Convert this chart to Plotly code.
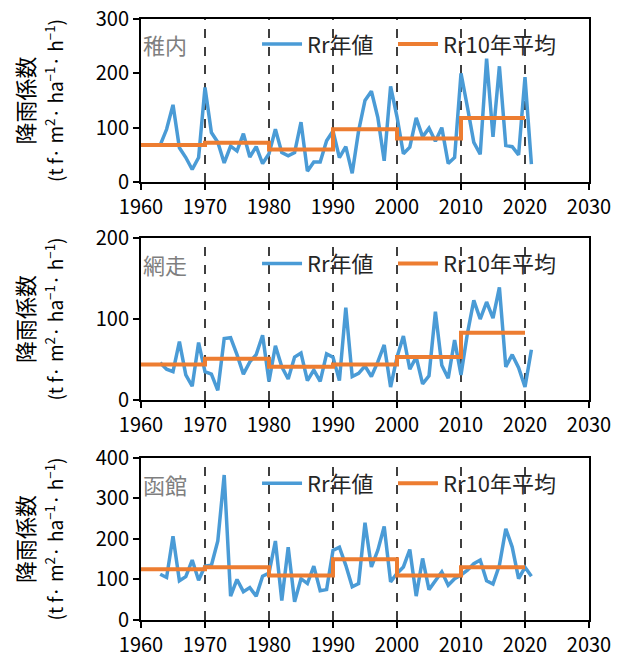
import plotly.graph_objects as go

years = list(range(1963, 2022))
decades = [1960, 1970, 1980, 1990, 2000, 2010, 2020]

wakkanai = [68, 97, 142, 63, 45, 23, 45,
            174, 91, 73, 35, 66, 57, 89, 46, 65, 34,
            52, 97, 54, 48, 54, 110, 20, 37, 37, 76,
            94, 45, 65, 16, 94, 150, 167, 119, 39, 176,
            120, 52, 64, 118, 83, 99, 75, 100, 34, 45,
            200, 138, 73, 51, 227, 83, 213, 67, 65, 50,
            193, 33]
wakkanai_avg = [68, 72, 60, 97, 80, 118, 118]

abashiri = [46, 38, 35, 72, 31, 17, 71,
            35, 32, 12, 76, 77, 56, 32, 47, 56, 80,
            23, 67, 41, 26, 53, 58, 24, 37, 23, 57,
            53, 24, 114, 29, 33, 42, 29, 47, 68, 16,
            53, 79, 38, 53, 20, 30, 109, 43, 27, 74,
            31, 82, 123, 100, 121, 101, 139, 41, 56, 40,
            16, 62]
abashiri_avg = [44, 51, 41, 44, 53, 83, 83]

hakodate = [113, 105, 207, 97, 107, 148, 98,
            133, 135, 195, 358, 59, 100, 70, 80, 59, 108,
            116, 195, 48, 180, 45, 102, 90, 133, 72, 75,
            172, 180, 135, 82, 90, 240, 131, 172, 231, 94,
            115, 131, 174, 59, 152, 75, 98, 119, 86, 102,
            111, 123, 139, 148, 97, 89, 135, 225, 180, 102,
            130, 108]
hakodate_avg = [125, 130, 110, 150, 110, 130, 130]

stations = ["稚内", "網走", "函館"]
series = [wakkanai, abashiri, hakodate]
averages = [wakkanai_avg, abashiri_avg, hakodate_avg]
y_ranges = [[0, 300], [0, 200], [0, 400]]
y_dtick = [100, 100, 100]
x_ticks = [1960, 1970, 1980, 1990, 2000, 2010, 2020, 2030]
names = ["Rr年値", "Rr10年平均"]

BLUE = "#4A9BD6"
ORANGE = "#ED7D31"
CJK = "Noto Sans CJK JP, sans-serif"

domains = [[0.7288, 1.0], [0.366, 0.6356], [0.0, 0.2696]]
legend_y = [0.958, 0.593, 0.227]
legend_x = [0.259, 0.5625]

ytitle = ("降雨係数<br><span style='font-size:19px'>"
          "(t f· m<sup>2</sup>· ha<sup>−1</sup>· h<sup>−1</sup>)</span>")

fig = go.Figure()
for i in range(3):
    ax = "" if i == 0 else str(i + 1)
    lg_b = "legend" if i == 0 else f"legend{2 * i + 1}"
    lg_o = f"legend{2 * i + 2}"
    fig.add_trace(go.Scatter(x=years, y=series[i], mode="lines", name=names[0],
                             line=dict(color=BLUE, width=3.5),
                             xaxis="x" + ax, yaxis="y" + ax, legend=lg_b))
    fig.add_trace(go.Scatter(x=decades, y=averages[i], mode="lines", name=names[1],
                             line=dict(color=ORANGE, width=4, shape="hv"),
                             xaxis="x" + ax, yaxis="y" + ax, legend=lg_o))
    for d in decades[1:]:
        fig.add_shape(type="line", xref="x" + ax, yref=f"y{ax} domain",
                      x0=d, x1=d, y0=0, y1=1,
                      line=dict(color="black", width=1.5, dash="dash"), layer="below")
    fig.add_annotation(text=stations[i], xref="paper", yref="paper",
                       x=0.0, y=legend_y[i], xanchor="left", yanchor="middle",
                       showarrow=False, font=dict(family=CJK, size=22, color="#7F7F7F"))

    xaxis = dict(domain=[0, 1], range=[1960, 2030], tickvals=x_ticks,
                 ticks="outside", ticklen=6, tickwidth=1.5, tickcolor="black",
                 showline=True, linecolor="black", linewidth=2, mirror=True,
                 showgrid=False, zeroline=False, automargin=False,
                 ticklabeloverflow="allow",
                 tickfont=dict(family=CJK, size=20, color="black"),
                 anchor="y" + ax)
    yaxis = dict(domain=domains[i], range=y_ranges[i], dtick=y_dtick[i],
                 ticks="outside", ticklen=6, tickwidth=1.5, tickcolor="black",
                 showline=True, linecolor="black", linewidth=2, mirror=True,
                 showgrid=False, zeroline=False, automargin=False,
                 ticklabeloverflow="allow",
                 tickfont=dict(family=CJK, size=20, color="black"),
                 title=dict(text=ytitle,
                            font=dict(family=CJK, size=22, color="black"), standoff=34),
                 anchor="x" + ax)
    fig.layout["xaxis" + ax] = xaxis
    fig.layout["yaxis" + ax] = yaxis
    for lg, lx in zip([lg_b, lg_o], legend_x):
        fig.layout[lg] = dict(x=lx, y=legend_y[i], xanchor="left", yanchor="middle",
                              orientation="h", bgcolor="rgba(0,0,0,0)",
                              font=dict(family=CJK, size=22, color="#262626"),
                              itemwidth=40)

# the page body adds an 8px offset; compensate so the plot area lands where the reference has it
fig.update_layout(width=613, height=650,
                  margin=dict(l=133, r=32, t=11, b=38, autoexpand=False),
                  plot_bgcolor="white", paper_bgcolor="white", showlegend=True)

fig.write_html("out.html")
